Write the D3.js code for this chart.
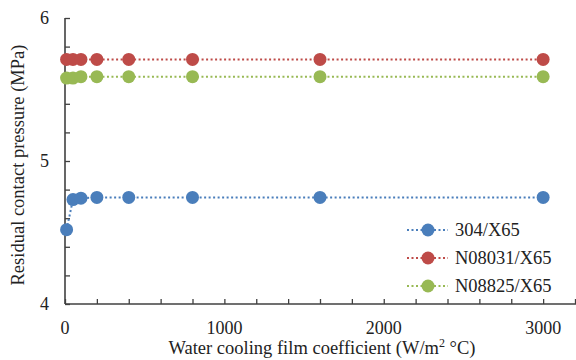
<!DOCTYPE html>
<html>
<head>
<meta charset="utf-8">
<script src="https://cdn.jsdelivr.net/npm/d3@7"></script>
<style>
  body { margin: 0; background: #fff; }
</style>
</head>
<body>
<svg id="chart" width="576" height="360"></svg>
<script>
// film coefficient (W/m2 C)
const coeff = [10, 50, 100, 200, 400, 800, 1600, 3000];
const s304 = [4.52, 4.73, 4.74, 4.745, 4.745, 4.745, 4.745, 4.745];
const sN08031 = [5.71, 5.71, 5.71, 5.71, 5.71, 5.71, 5.71, 5.71];
const sN08825 = [5.58, 5.58, 5.59, 5.59, 5.59, 5.59, 5.59, 5.59];
const seriesNames = ["304/X65", "N08031/X65", "N08825/X65"];
const xTicks = [0, 1000, 2000, 3000];
const yTicks = [4, 5, 6];

const colors = ["#4a7ebb", "#be4b48", "#98b954"];
const series = [s304, sN08031, sN08825];
const FONT = "'Liberation Serif', 'Times New Roman', 'DejaVu Serif', serif";

const svg = d3.select("#chart");
const margin = { left: 65, right: 1, top: 18, bottom: 56 };
const width = 576 - margin.left - margin.right;
const height = 360 - margin.top - margin.bottom;

const x = d3.scaleLinear().domain([0, 3200]).range([margin.left, margin.left + width]);
const y = d3.scaleLinear().domain([4, 6]).range([margin.top + height, margin.top]);

// axes, ticks pointing inward
const gx = svg.append("g").attr("transform", `translate(0,${y(4)})`);
gx.call(d3.axisTop(x).tickValues(d3.range(0, 3201, 200)).tickSize(5).tickFormat(""));
gx.select(".domain").remove();
gx.selectAll(".tick line").attr("stroke", "#404040").attr("stroke-width", 1.3);
gx.append("line").attr("x1", x(0)).attr("x2", 576).attr("stroke", "#404040").attr("stroke-width", 1.6);

const gy = svg.append("g").attr("transform", `translate(${x(0)},0)`);
gy.call(d3.axisRight(y).tickValues(d3.range(4, 6.01, 0.2)).tickSize(5).tickFormat(""));
gy.select(".domain").remove();
gy.selectAll(".tick line").attr("stroke", "#404040").attr("stroke-width", 1.3);
gy.append("line").attr("y1", y(4)).attr("y2", y(6)).attr("stroke", "#404040").attr("stroke-width", 1.6);

// tick labels
svg.selectAll(".xl").data(xTicks).join("text")
  .attr("x", d => x(d)).attr("y", y(4) + 30)
  .attr("text-anchor", "middle").attr("font-size", 18).attr("font-family", FONT).attr("fill", "#222")
  .text(d => d);
svg.selectAll(".yl").data(yTicks).join("text")
  .attr("x", x(0) - 16).attr("y", d => y(d) + 6)
  .attr("text-anchor", "end").attr("font-size", 18).attr("font-family", FONT).attr("fill", "#222")
  .text(d => d);

// axis titles
svg.append("text").attr("x", 322).attr("y", 354).attr("text-anchor", "middle")
  .attr("font-size", 18.5).attr("font-family", FONT).attr("fill", "#222")
  .html('Water cooling film coefficient (W/m<tspan dy="-7" font-size="12">2</tspan><tspan dy="7"> °C)</tspan>');
svg.append("text").attr("transform", `translate(24,${y(5) + 4}) rotate(-90)`)
  .attr("text-anchor", "middle").attr("font-size", 18.5).attr("font-family", FONT).attr("fill", "#222")
  .text("Residual contact pressure (MPa)");

// series
const line = d3.line().x((d, i) => x(coeff[i])).y(d => y(d));
series.forEach((s, k) => {
  svg.append("path").datum(s).attr("d", line).attr("fill", "none")
    .attr("stroke", colors[k]).attr("stroke-width", 2).attr("stroke-dasharray", "2,2.5");
  svg.append("g").selectAll("circle").data(s).join("circle")
    .attr("cx", (d, i) => x(coeff[i])).attr("cy", d => y(d)).attr("r", 6.5)
    .attr("fill", colors[k]);
});

// legend
const lg = svg.append("g");
seriesNames.forEach((n, k) => {
  const yy = 230 + k * 28;
  lg.append("line").attr("x1", 407).attr("x2", 448).attr("y1", yy).attr("y2", yy)
    .attr("stroke", colors[k]).attr("stroke-width", 2).attr("stroke-dasharray", "2,2.5");
  lg.append("circle").attr("cx", 428).attr("cy", yy).attr("r", 6.5).attr("fill", colors[k]);
  lg.append("text").attr("x", 455).attr("y", yy + 6).attr("font-size", 18.5)
    .attr("font-family", FONT).attr("fill", "#222").text(n);
});
</script>
</body>
</html>
